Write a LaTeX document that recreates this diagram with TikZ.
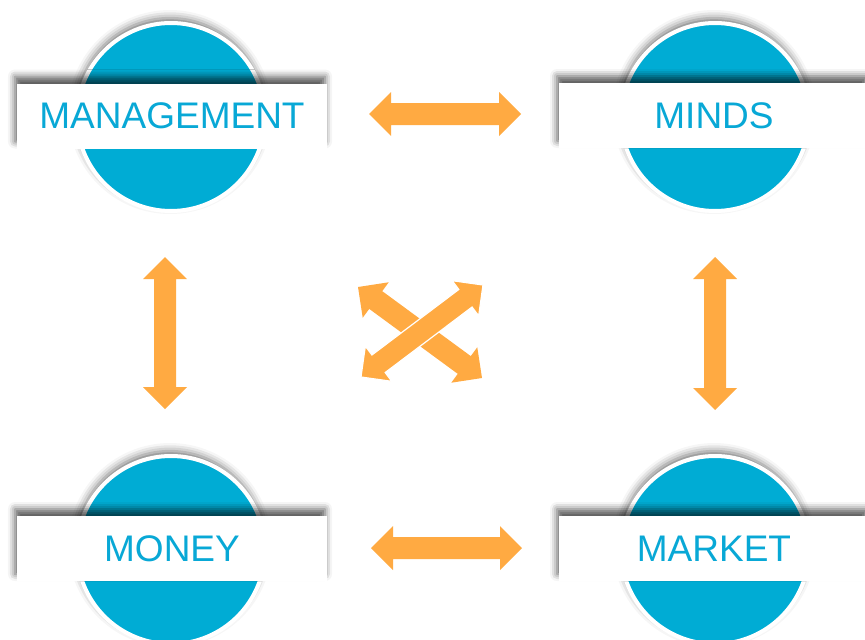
\documentclass[tikz,border=0pt]{standalone}
\usepackage{fontspec}
\setmainfont{Liberation Sans}
\usetikzlibrary{calc,shadows.blur}
\definecolor{cblue}{RGB}{0,172,212}
\definecolor{tblue}{RGB}{8,168,214}
\definecolor{aorange}{RGB}{255,170,66}
\tikzset{
  disc/.style={circle, minimum size=188pt, inner sep=0pt, fill=cblue, draw=white, line width=4pt,
    blur shadow={shadow xshift=-1pt, shadow yshift=5pt, shadow blur radius=8pt, shadow opacity=55}},
  banner/.style={rectangle, minimum width=310pt, minimum height=65pt, inner sep=0pt, fill=white,
    text=tblue, font=\fontsize{37}{37}\selectfont,
    blur shadow={shadow xshift=-2pt, shadow yshift=7pt, shadow blur radius=7pt, shadow opacity=65}},
  arrowfill/.style={fill=aorange},
}
\newcommand{\blockarrow}[3][]{%
  \coordinate (ba-p) at ($(#2)!22pt!(#3)$);
  \coordinate (ba-q) at ($(#3)!22pt!(#2)$);
  \filldraw[arrowfill,draw=none,#1] (#2) -- ($(ba-p)!22pt!90:(#3)$) -- ($(ba-p)!11pt!90:(#3)$)
    -- ($(ba-q)!11pt!-90:(#2)$) -- ($(ba-q)!22pt!-90:(#2)$) -- (#3)
    -- ($(ba-q)!22pt!90:(#2)$) -- ($(ba-q)!11pt!90:(#2)$)
    -- ($(ba-p)!11pt!-90:(#3)$) -- ($(ba-p)!22pt!-90:(#3)$) -- cycle;}
\begin{document}
\begin{tikzpicture}[x=1pt,y=-1pt]
\useasboundingbox (0,0) rectangle (865,640);
\clip (0,0) rectangle (865,640);
% discs
\node[disc] (c1) at (171,117) {};
\node[disc] (c2) at (715,117) {};
\node[disc] (c3) at (171,550) {};
\node[disc] (c4) at (715,550) {};
% banners
\node[banner] (b1) at (172,116) {\raisebox{-1.5pt}{MANAGEMENT}};
\node[banner] (b2) at (714,115.5) {\raisebox{-1.5pt}{MINDS}};
\node[banner] (b3) at (172,548.5) {\raisebox{-0.5pt}{MONEY}};
\node[banner] (b4) at (714,548.5) {\raisebox{-0.5pt}{MARKET}};
% arrow end points
\coordinate (h1a) at (369,114);
\coordinate (h1b) at (521,114);
\coordinate (h2a) at (371,548);
\coordinate (h2b) at (522,548);
\coordinate (v1a) at (165,257);
\coordinate (v1b) at (165,409);
\coordinate (v2a) at (715,257);
\coordinate (v2b) at (715,410);
\coordinate (d1a) at (358,287);
\coordinate (d1b) at (482,378);
\coordinate (d2a) at (361,377);
\coordinate (d2b) at (483,285);
% arrows
\blockarrow{h1a}{h1b}
\blockarrow{h2a}{h2b}
\blockarrow{v1a}{v1b}
\blockarrow{v2a}{v2b}
\blockarrow{d1a}{d1b}
\blockarrow[draw=white,line width=1.2pt,line join=miter]{d2a}{d2b}
\end{tikzpicture}
\end{document}
